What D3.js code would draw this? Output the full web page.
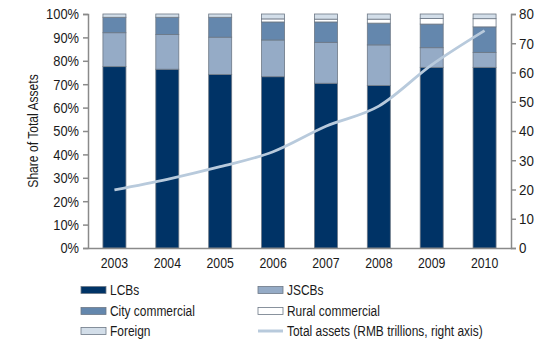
<!DOCTYPE html>
<html>
<head>
<meta charset="utf-8">
<script src="https://cdn.jsdelivr.net/npm/d3@7"></script>
<style>
  body { margin: 0; background: #fff; }
  text { font-family: "Liberation Sans Narrow", "Arial Narrow", "Liberation Sans", sans-serif; fill: #1a1a1a; }
</style>
</head>
<body>
<div id="chart"></div>
<script>
// data (shares in %, total assets in RMB trillions)
var years = ["2003", "2004", "2005", "2006", "2007", "2008", "2009", "2010"];
var lcbs = [77.5, 76.4, 74.1, 73.2, 70.4, 69.4, 77.2, 77.2];
var jscbs = [14.5, 14.8, 16.0, 15.7, 17.5, 17.4, 8.4, 6.4];
var cityCommercial = [6.6, 7.4, 8.5, 7.7, 8.7, 9.3, 10.1, 10.9];
var ruralCommercial = [0, 0, 0, 1.3, 1.2, 1.7, 2.4, 3.5];
var foreign = [1.4, 1.4, 1.4, 2.1, 2.2, 2.2, 1.9, 2.0];
var totalAssets = [19.9, 23.5, 27.8, 32.9, 41.6, 48.5, 62.6, 74.3];

var leftTicks = [0, 10, 20, 30, 40, 50, 60, 70, 80, 90, 100];
var rightTicks = [0, 10, 20, 30, 40, 50, 60, 70, 80];

var series = [
  { name: "LCBs", values: lcbs, color: "#003366" },
  { name: "JSCBs", values: jscbs, color: "#95abc6" },
  { name: "City commercial", values: cityCommercial, color: "#6487ad" },
  { name: "Rural commercial", values: ruralCommercial, color: "#ffffff" },
  { name: "Foreign", values: foreign, color: "#d3dee9" }
];

var width = 554, height = 350;
var margin = { top: 14, right: 43, bottom: 102, left: 88 };
var innerW = width - margin.left - margin.right;
var innerH = height - margin.top - margin.bottom;

var svg = d3.select("#chart").append("svg")
    .attr("width", width)
    .attr("height", height);

var g = svg.append("g")
    .attr("transform", "translate(" + margin.left + "," + margin.top + ")");

var x = d3.scaleBand().domain(years).range([0, innerW]).paddingInner(0.565).paddingOuter(0.2825);
var y = d3.scaleLinear().domain([0, 100]).range([innerH, 0]);
var y2 = d3.scaleLinear().domain([0, 80]).range([innerH, 0]);

// squeeze text horizontally, the original uses a condensed face
function condense(sel, k) {
  sel.each(function() {
    var len = this.getComputedTextLength();
    d3.select(this).attr("textLength", len * k).attr("lengthAdjust", "spacingAndGlyphs");
  });
}

// stacked bars
var stackRows = years.map(function(yr, i) {
  var row = { year: yr };
  series.forEach(function(s) { row[s.name] = s.values[i]; });
  return row;
});
var stacked = d3.stack().keys(series.map(function(s) { return s.name; }))(stackRows);

g.selectAll(".layer")
  .data(stacked)
  .enter().append("g")
    .attr("class", "layer")
    .attr("fill", function(d, i) { return series[i].color; })
  .selectAll("rect")
  .data(function(d) { return d; })
  .enter().append("rect")
    .attr("x", function(d) { return x(d.data.year); })
    .attr("y", function(d) { return y(d[1]); })
    .attr("width", x.bandwidth())
    .attr("height", function(d) { return y(d[0]) - y(d[1]); })
    .attr("stroke", "#6d7885")
    .attr("stroke-width", 0.8);

// total assets line
g.append("path")
  .datum(totalAssets)
  .attr("fill", "none")
  .attr("stroke", "#b8cadc")
  .attr("stroke-width", 2.8)
  .attr("d", d3.line()
    .curve(d3.curveMonotoneX)
    .x(function(d, i) { return x(years[i]) + x.bandwidth() / 2; })
    .y(function(d) { return y2(d); }));

// axes
var leftAxis = g.append("g")
  .call(d3.axisLeft(y).tickValues(leftTicks).tickSize(5).tickPadding(4)
    .tickFormat(function(d) { return d + "%"; }));
var rightAxis = g.append("g")
  .attr("transform", "translate(" + innerW + ",0)")
  .call(d3.axisRight(y2).tickValues(rightTicks).tickSize(5).tickPadding(3));
var bottomAxis = g.append("g")
  .attr("transform", "translate(0," + innerH + ")")
  .call(d3.axisBottom(x).tickSize(0).tickPadding(9));

[leftAxis, rightAxis, bottomAxis].forEach(function(a) {
  a.select(".domain").attr("stroke", "#8a8a8a").attr("stroke-width", 1.5);
  a.selectAll(".tick line").attr("stroke", "#8a8a8a").attr("stroke-width", 1.5);
  a.selectAll("text").attr("font-size", 15.5).attr("fill", "#1a1a1a")
    .style("font-family", '"Liberation Sans Narrow", "Arial Narrow", "Liberation Sans", sans-serif');
});
bottomAxis.selectAll("text").attr("font-size", 15);
condense(leftAxis.selectAll("text"), 0.83);
condense(rightAxis.selectAll("text"), 0.86);
condense(bottomAxis.selectAll("text"), 0.82);

// y axis title
svg.append("text")
  .attr("transform", "translate(38," + (margin.top + innerH / 2) + ") rotate(-90)")
  .attr("text-anchor", "middle")
  .attr("font-size", 15.5)
  .text("Share of Total Assets")
  .call(condense, 0.78);

// legend
var legendItems = [
  { name: "LCBs", type: "box", color: "#003366", col: 0, row: 0 },
  { name: "JSCBs", type: "box", color: "#95abc6", col: 1, row: 0 },
  { name: "City commercial", type: "box", color: "#6487ad", col: 0, row: 1 },
  { name: "Rural commercial", type: "box", color: "#ffffff", col: 1, row: 1 },
  { name: "Foreign", type: "box", color: "#d3dee9", col: 0, row: 2 },
  { name: "Total assets (RMB trillions, right axis)", type: "line", color: "#b8cadc", col: 1, row: 2 }
];
var colX = [81, 258], rowY = [290, 311, 331];

var leg = svg.selectAll(".legend")
  .data(legendItems)
  .enter().append("g")
    .attr("class", "legend")
    .attr("transform", function(d) { return "translate(" + colX[d.col] + "," + rowY[d.row] + ")"; });

leg.filter(function(d) { return d.type === "box"; })
  .append("rect")
    .attr("x", 0).attr("y", -3.5)
    .attr("width", 25).attr("height", 7)
    .attr("fill", function(d) { return d.color; })
    .attr("stroke", "#6d7885")
    .attr("stroke-width", 0.8);

leg.filter(function(d) { return d.type === "line"; })
  .append("line")
    .attr("x1", 0).attr("x2", 25)
    .attr("stroke", function(d) { return d.color; })
    .attr("stroke-width", 3);

leg.append("text")
  .attr("x", 29)
  .attr("dy", "0.35em")
  .attr("font-size", 15.5)
  .text(function(d) { return d.name; })
  .call(condense, 0.77);
</script>
</body>
</html>
